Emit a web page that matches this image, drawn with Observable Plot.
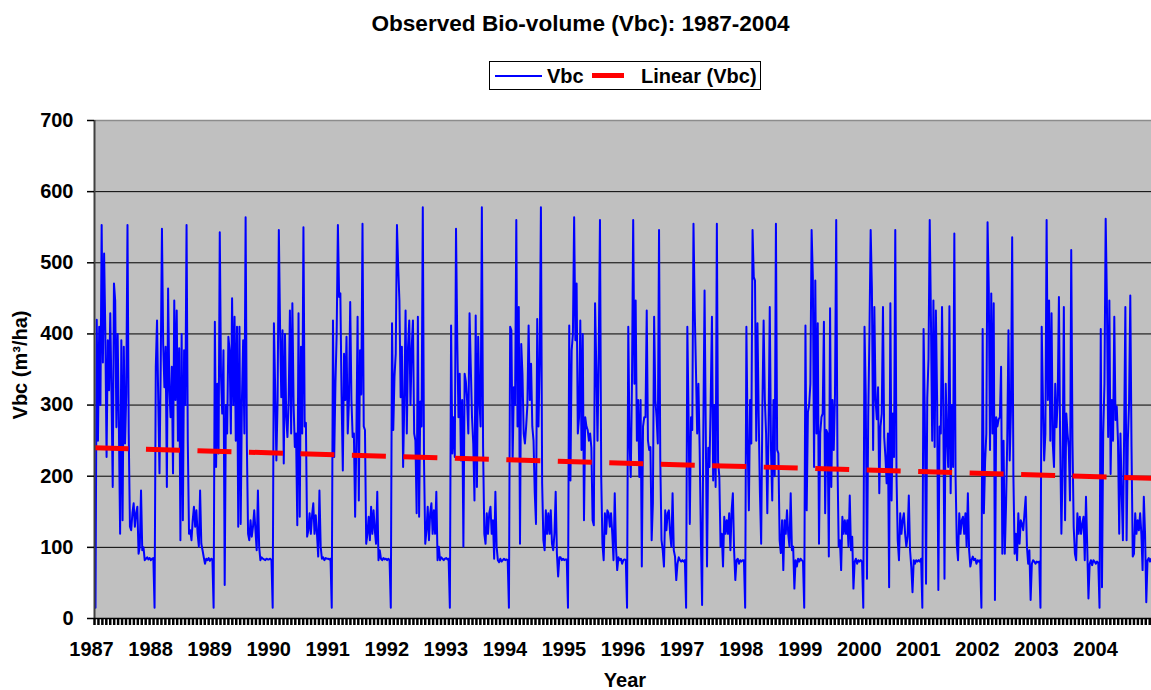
<!DOCTYPE html>
<html>
<head>
<meta charset="utf-8">
<script src="https://cdn.jsdelivr.net/npm/d3@7"></script>
<script src="https://cdn.jsdelivr.net/npm/@observablehq/plot@0.6"></script>
<style>
  body { margin: 0; background: #fff; }
  #chart {
    position: relative; width: 1151px; height: 690px; overflow: hidden;
    font-family: "Liberation Sans", Arial, sans-serif; font-weight: bold; color: #000;
  }
  .txt { position: absolute; white-space: nowrap; line-height: 1; }
  #plot { position: absolute; left: 0; top: 0; }
</style>
</head>
<body>
<div id="chart">
  <div id="plot"></div>
  <div class="txt" style="left:0; width:1161px; text-align:center; top:12.6px; font-size:22.6px;">Observed Bio-volume (Vbc): 1987-2004</div>
  <div id="legend" style="position:absolute; left:489px; top:61px; width:272px; height:29px; box-sizing:border-box; border:1px solid #000; background:#fff;"></div>
  <div style="position:absolute; left:495px; top:75.3px; width:47px; height:1.6px; background:#0000ff;"></div>
  <div class="txt" style="left:547px; top:65.8px; font-size:20px;">Vbc</div>
  <div style="position:absolute; left:592px; top:72.6px; width:32px; height:5px; background:#ff0000;"></div>
  <div class="txt" style="left:641px; top:65.8px; font-size:20px;">Linear (Vbc)</div>
  <div class="txt" style="left:625px; top:670px; font-size:20px; transform:translateX(-50%);">Year</div>
  <div class="txt" style="left:20px; top:365px; font-size:20px; transform:translate(-50%,-50%) rotate(-90deg);">Vbc (m³/ha)</div>
</div>
<script>
// Daily bio-volume readings condensed to 48 samples per year (Jan 1 first).
const years = [1987, 1988, 1989, 1990, 1991, 1992, 1993, 1994, 1995, 1996, 1997, 1998, 1999, 2000, 2001, 2002, 2003, 2004];
const samplesPerYear = 48;

const vbc1987 = [15,420,250,410,300,553,360,513,400,227,391,321,429,316,185,471,447,269,400,270,119,391,138,382,246,316,553,260,129,124,148,162,129,148,157,91,101,180,96,100,82,84,86,83,85,82,84,85];
const vbc1988 = [15,354,419,307,204,354,548,386,325,382,185,464,325,283,354,204,447,307,433,250,380,110,400,138,377,300,553,250,119,124,110,138,157,129,152,119,101,180,105,96,86,77,84,82,85,81,84,83];
const vbc1989 = [15,417,213,330,232,543,340,288,377,47,300,260,396,377,260,450,300,424,250,410,129,410,133,307,391,260,564,246,119,110,138,115,129,152,124,96,180,101,82,86,84,83,82,84,83,83,84,82];
const vbc1990 = [15,415,325,222,307,546,410,311,405,218,400,283,255,307,433,260,443,300,241,260,131,429,143,382,260,550,270,275,115,124,148,119,145,162,119,145,119,87,180,101,84,86,82,85,84,84,83,84];
const vbc1991 = [15,419,227,330,400,553,452,457,311,208,372,307,396,260,307,445,307,255,260,143,250,424,166,377,315,555,270,265,105,119,143,110,157,119,152,124,105,178,82,96,84,82,85,83,84,82,84,82];
const vbc1992 = [15,415,265,340,372,553,494,447,311,382,213,307,433,260,382,419,300,382,419,260,250,148,424,143,305,270,578,220,105,124,157,110,148,162,119,152,119,178,82,101,82,86,84,82,84,85,83,84];
const vbc1993 = [15,412,232,283,227,548,391,283,344,222,307,101,344,333,307,260,429,354,283,246,166,426,185,396,307,270,578,240,119,105,148,119,148,157,119,138,84,178,101,82,79,84,80,82,84,82,83,82];
const vbc1994 = [15,410,405,222,325,300,560,270,438,105,386,344,260,246,270,300,412,307,358,270,250,176,133,421,270,363,578,190,110,96,152,119,148,119,152,105,96,119,178,91,59,86,86,82,84,82,83,83];
const vbc1995 = [15,412,194,377,400,564,391,471,260,283,419,237,400,138,283,270,265,250,260,240,138,131,443,354,250,377,560,200,105,82,148,119,152,148,129,148,119,82,176,101,68,86,82,84,77,82,83,82];
const vbc1996 = [15,410,250,199,330,560,330,447,250,307,199,307,73,270,283,283,433,250,237,241,110,162,424,307,283,246,546,225,110,96,73,152,124,148,152,119,101,176,96,87,54,77,86,82,80,82,80,82];
const vbc1997 = [15,410,283,133,283,265,555,433,350,260,330,240,115,19,265,461,260,73,240,213,307,424,194,300,185,555,220,200,101,119,73,143,119,138,119,148,96,152,176,96,54,82,84,77,82,80,82,82];
const vbc1998 = [15,410,250,152,307,246,546,480,475,250,415,283,176,105,298,419,307,260,148,265,438,237,166,307,200,555,237,232,110,92,138,68,138,119,152,119,101,176,96,101,42,82,73,84,80,84,82,80];
const vbc1999 = [15,412,152,290,300,330,546,480,213,475,260,415,105,260,283,288,417,148,265,260,87,436,185,307,237,315,560,225,101,110,68,143,119,138,119,138,101,173,96,115,42,80,84,77,82,80,82,80];
const vbc2000 = [15,410,315,56,283,400,546,464,237,438,307,280,325,176,270,288,438,255,227,190,260,44,443,166,288,227,546,200,110,82,148,119,138,148,119,101,115,173,96,73,37,82,77,82,80,82,80,84];
const vbc2001 = [15,407,290,49,310,365,560,419,250,447,241,433,307,40,270,260,438,298,56,330,255,213,439,176,300,213,541,200,105,82,148,119,138,143,119,148,101,176,96,73,82,87,82,84,77,82,80,82];
const vbc2002 = [15,407,148,220,260,557,461,237,457,260,443,26,283,270,280,283,354,91,250,91,157,250,405,222,292,536,200,91,119,82,148,105,138,133,124,148,171,101,77,96,26,77,82,80,77,80,79,80];
const vbc2003 = [15,410,307,222,260,560,307,447,250,429,246,213,330,269,307,452,250,119,213,438,138,288,260,241,166,518,250,129,91,82,148,119,143,119,133,143,82,171,101,28,77,82,75,82,80,77,80,78];
const vbc2004 = [15,407,44,260,330,562,447,255,447,203,307,250,424,279,298,250,119,260,176,110,260,438,110,250,302,454,241,87,91,148,119,138,124,148,119,68,171,119,23,82,85,80,84,82];

const vbcByYear = [vbc1987, vbc1988, vbc1989, vbc1990, vbc1991, vbc1992, vbc1993, vbc1994, vbc1995,
  vbc1996, vbc1997, vbc1998, vbc1999, vbc2000, vbc2001, vbc2002, vbc2003, vbc2004];

// Excel-style linear trend of Vbc, given by its two ends
const trendYears = [1986.983, 2004.88];
const trendValues = [240, 197];

const yTicks = [0, 100, 200, 300, 400, 500, 600, 700];
const gridValues = [100, 200, 300, 400, 500, 600];

const rows = years.flatMap((yr, k) =>
  vbcByYear[k].map((v, i) => ({t: yr + i / samplesPerYear, v})));
const trendRows = trendYears.map((t, i) => ({t, v: trendValues[i]}));

const xDomain = [1986.983, 2004.88];
// dense category tick marks along the bottom axis
const minorTicks = d3.range(0, 18 * 15).map(k => xDomain[0] + k / 15);

const chart = Plot.plot({
  width: 1151,
  height: 690,
  marginTop: 120,
  marginBottom: 72,
  marginLeft: 94,
  marginRight: 0,
  x: {domain: xDomain, label: null},
  y: {domain: [0, 700], label: null},
  style: {
    fontFamily: '"Liberation Sans", Arial, sans-serif',
    fontSize: "20px",
    fontWeight: "bold",
    color: "#000",
    background: "transparent",
    overflow: "visible"
  },
  marks: [
    Plot.frame({fill: "#c0c0c0", stroke: null}),
    Plot.ruleY(gridValues, {stroke: "#000", strokeWidth: 1}),
    Plot.ruleY([700], {stroke: "#8c8c8c", strokeWidth: 1.5}),
    Plot.line(rows, {x: "t", y: "v", stroke: "#0000ff", strokeWidth: 2, clip: true}),
    Plot.line(trendRows, {x: "t", y: "v", stroke: "#ff0000", strokeWidth: 5,
      strokeDasharray: "34 17.5", strokeLinecap: "butt"}),
    Plot.ruleX([xDomain[0]], {stroke: "#404040", strokeWidth: 2}),
    Plot.axisX({ticks: minorTicks, tickSize: 7, tickFormat: () => "", stroke: "#000", strokeWidth: 2.5}),
    Plot.ruleY([0], {stroke: "#000", strokeWidth: 1.5}),
    Plot.axisX({ticks: years, tickSize: 0, tickPadding: 23, dx: -4, tickFormat: d => String(d)}),
    Plot.axisY({ticks: yTicks, tickSize: 7, tickPadding: 14, stroke: "#000", strokeWidth: 1.5})
  ]
});
document.getElementById("plot").appendChild(chart);
</script>
</body>
</html>
